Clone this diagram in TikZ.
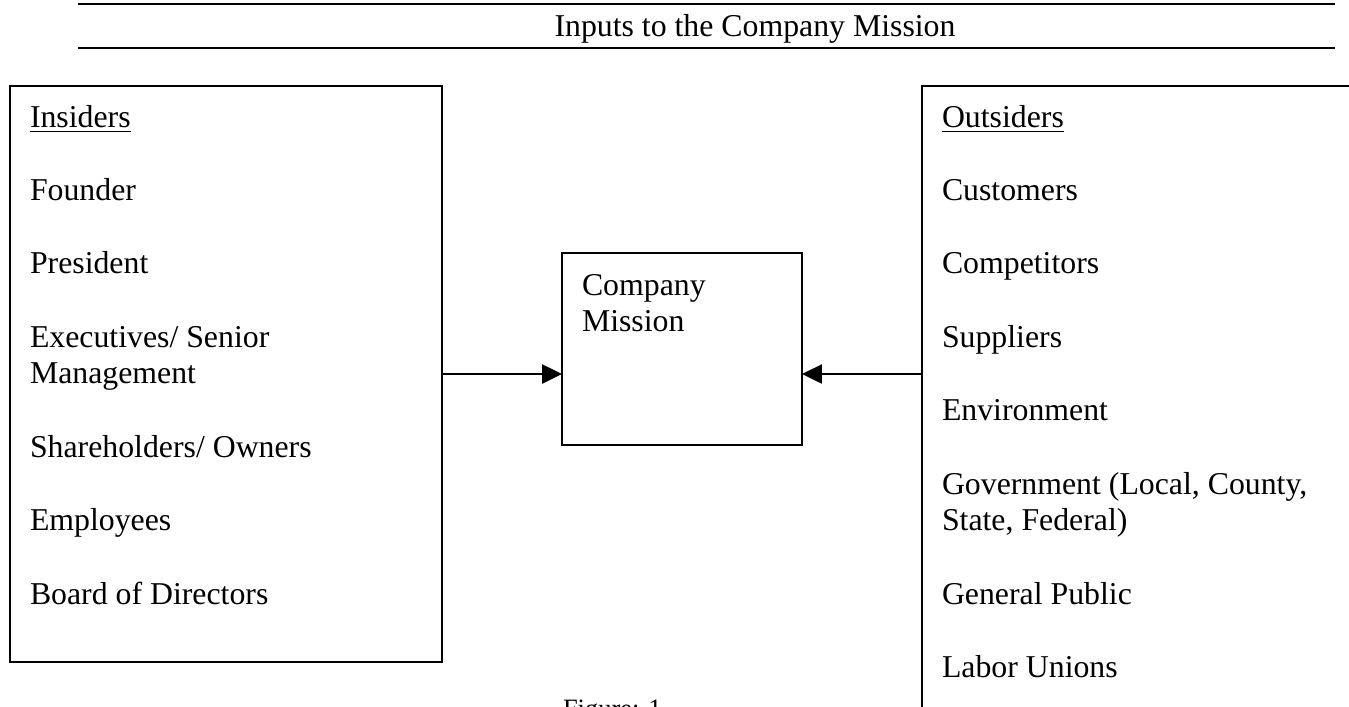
\documentclass[tikz,border=0pt]{standalone}
\usepackage{fontspec}
\setmainfont{Liberation Serif}
\usetikzlibrary{arrows.meta,fit}
\begin{document}
\begin{tikzpicture}[x=0.3774pt,y=-0.3774pt,
  frame/.style={draw,line width=0.9pt,rectangle,inner sep=0pt,outer sep=0pt},
  item/.style={anchor=base west,inner sep=0pt,outer sep=0pt,font=\fontsize{12}{13.8}\selectfont},
  feed/.style={line width=0.7pt,-{Triangle[length=7.5pt,width=7.2pt]}},
  headrule/.style={line width=0.95pt}]
\useasboundingbox (0,0) rectangle (1349,706);
\clip (0,0) rectangle (1349,706);

% heading between two rules
\coordinate (ruleL) at (78,4);
\coordinate (ruleR) at (1335,4);
\coordinate (ruleL2) at (78,48);
\coordinate (ruleR2) at (1335,48);
\draw[headrule] (ruleL) -- (ruleR);
\draw[headrule] (ruleL2) -- (ruleR2);
\node[item,anchor=base] (title) at (755,36) {Inputs to the Company Mission};

% frames
\coordinate (inNW) at (10,86);   \coordinate (inSE) at (442,662);
\coordinate (msNW) at (562,253); \coordinate (msSE) at (802,445);
\coordinate (outNW) at (922,86); \coordinate (outSE) at (1420,780);
\node[frame,fit=(inNW)(inSE)] (insiders) {};
\node[frame,fit=(msNW)(msSE)] (mission) {};
\node[frame,fit=(outNW)(outSE)] (outsiders) {};

% insiders list
\foreach \k/\txt [count=\n] in {0/{\underline{Insiders}},2/{Founder},4/{President},
    6/{Executives/ Senior},7/{Management},9/{Shareholders/ Owners},11/{Employees},
    13/{Board of Directors}}
  \node[item] (ins\n) at (30,127+36.7*\k) {\txt};

% outsiders list
\foreach \k/\txt [count=\n] in {0/{\underline{Outsiders}},2/{Customers},4/{Competitors},
    6/{Suppliers},8/{Environment},10/{Government (Local, County,},11/{State, Federal)},
    13/{General Public},15/{Labor Unions}}
  \node[item] (outs\n) at (942,127+36.7*\k) {\txt};

% centre box text
\node[item] (ms1) at (582,295) {Company};
\node[item] (ms2) at (582,331.7) {Mission};

% inputs
\draw[feed] (insiders.east) -- (insiders.east -| mission.west);
\draw[feed] (insiders.east -| outsiders.west) -- (insiders.east -| mission.east);

% caption
\node[item,font=\fontsize{10}{12}\selectfont] (caption) at (563,717.5) {Figure: 1};
\end{tikzpicture}
\end{document}
